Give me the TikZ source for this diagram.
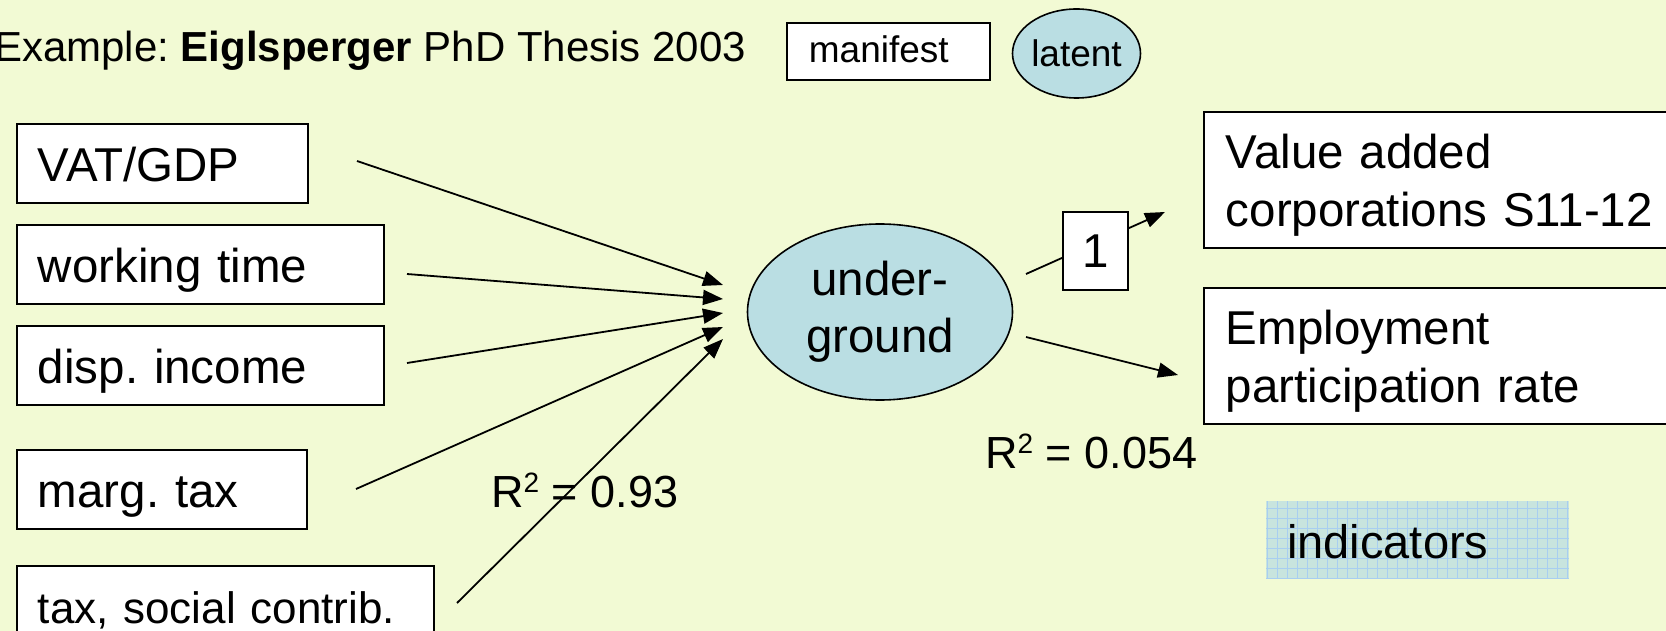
\documentclass[tikz,border=0pt]{standalone}
\usepackage{fontspec}
\setmainfont{Liberation Sans}
\usetikzlibrary{arrows.meta,shapes.geometric}
\definecolor{bgcol}{RGB}{242,250,212}
\definecolor{latcol}{RGB}{186,222,227}
\definecolor{indcol}{RGB}{200,228,222}
\definecolor{gridcol}{RGB}{168,206,240}
\newcommand{\pxfont}[2]{\fontsize{#1}{#2}\selectfont}
\frenchspacing
\begin{document}
\begin{tikzpicture}[x=1pt,y=-1pt,
  mbox/.style={draw, fill=white, line width=1.8pt, anchor=north west,
    inner xsep=21pt, inner ysep=0pt, minimum height=79pt, align=left,
    text height=37pt, text depth=0pt, font=\pxfont{47.5}{57}},
  rbox/.style={draw, fill=white, line width=1.8pt, anchor=north west,
    inner xsep=22pt, inner ysep=0pt, minimum height=136pt, align=left,
    text width=455pt, text height=40pt, text depth=62pt, font=\pxfont{47.5}{58}},
  lat/.style={ellipse, draw, fill=latcol, line width=1.6pt, inner sep=0pt},
  conn/.style={line width=1.8pt, -{Triangle[length=20pt,width=15pt]}},
  lbl/.style={anchor=base west, inner sep=0pt, font=\pxfont{45}{54}}
]
\useasboundingbox (0,0) rectangle (1666,631);
\clip (0,0) rectangle (1666,631);
\fill[bgcol] (0,0) rectangle (1666,631);

% title and legend
\node[anchor=base west, inner sep=0pt, font=\pxfont{42}{50}] (title) at (-6,62)
  {Example: \textbf{Eiglsperger} PhD Thesis 2003};
\node[draw, fill=white, line width=1.8pt, anchor=north west, minimum height=57pt,
  text width=159pt, inner xsep=22pt, inner ysep=0pt, text height=23pt, text depth=0pt,
  align=left, font=\pxfont{37}{44}] (manifest) at (786,22) {manifest};
\node[lat, minimum width=127pt, minimum height=89pt, font=\pxfont{37}{44}] (latent)
  at (1076.5,53.5) {latent};

% causes
\node[mbox, text width=249pt] (vat) at (16,123) {VAT/GDP};
\node[mbox, text width=325pt] (work) at (16,224) {working time};
\node[mbox, text width=325pt] (disp) at (16,325) {disp. income};
\node[mbox, text width=248pt] (marg) at (16,449) {marg. tax};
\node[mbox, text width=375pt, font=\pxfont{44}{53}] (tax) at (16,565) {tax, social contrib.};

% latent variable
\node[lat, minimum width=265pt, minimum height=176pt, align=center,
  font=\pxfont{47.5}{57}] (under) at (880,312) {under-\\ground};

% indicators
\node[rbox] (value) at (1203,111) {Value added\\corporations S11-12};
\node[rbox] (empl) at (1203,287) {Employment\\participation rate};

% connector end points
\coordinate (s1) at (357,161);  \coordinate (t1) at (723,285);
\coordinate (s2) at (407,274);  \coordinate (t2) at (723,299);
\coordinate (s3) at (407,363);  \coordinate (t3) at (723,313);
\coordinate (s4) at (356,489);  \coordinate (t4) at (723,327);
\coordinate (s5) at (457,603);  \coordinate (t5) at (723,339);
\coordinate (u1) at (1026,274); \coordinate (v1) at (1165,212);
\coordinate (u2) at (1026,337); \coordinate (v2) at (1178,375);

\draw[conn] (s1) -- (t1);
\draw[conn] (s2) -- (t2);
\draw[conn] (s3) -- (t3);
\draw[conn] (s4) -- (t4);
\draw[conn] (s5) -- (t5);
\draw[conn] (u1) -- (v1);
\draw[conn] (u2) -- (v2);

\node[draw, fill=white, line width=1.8pt, minimum width=65pt, minimum height=78pt,
  inner sep=0pt, font=\pxfont{47.5}{57}] (one) at (1095.5,251) {1};

% R^2 labels
\node[lbl] (r2a) at (491,507) {R\raisebox{15pt}{\pxfont{28}{28}2} = 0.93};
\node[lbl] (r2b) at (985,468) {R\raisebox{15pt}{\pxfont{28}{28}2} = 0.054};

% indicators legend
\node[anchor=north west, fill=indcol, inner xsep=21pt, inner ysep=0pt,
  minimum height=77pt, text width=261pt, text height=37pt, text depth=0pt,
  align=left, font=\pxfont{47}{56},
  path picture={\draw[gridcol, line width=0.8pt, step=10pt]
    (path picture bounding box.south west) grid (path picture bounding box.north east);}]
  (ind) at (1266,501) {indicators};
\end{tikzpicture}
\end{document}
